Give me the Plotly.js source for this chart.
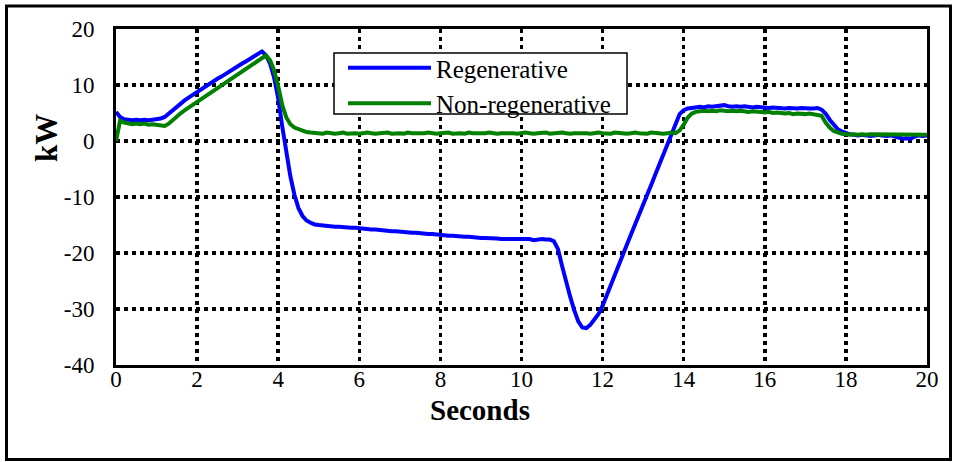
<!DOCTYPE html>
<html>
<head>
<meta charset="utf-8">
<script src="https://cdn.plot.ly/plotly-3.0.1.min.js"></script>
<style>
  html, body { margin: 0; padding: 0; background: #ffffff; }
  #chart { width: 957px; height: 462px; }
</style>
</head>
<body>
<div id="chart"></div>
<script>
// Time axis (seconds)
const time = [
  0.0,0.1,0.2,0.3,0.4,0.5,0.6,0.7,0.8,0.9,
  1.0,1.1,1.2,1.3,1.4,1.5,1.6,1.7,1.8,1.9,
  2.0,2.1,2.2,2.3,2.4,2.5,2.6,2.7,2.8,2.9,
  3.0,3.1,3.2,3.3,3.4,3.5,3.6,3.7,3.8,3.9,
  4.0,4.1,4.2,4.3,4.4,4.5,4.6,4.7,4.8,4.9,
  5.0,5.1,5.2,5.3,5.4,5.5,5.6,5.7,5.8,5.9,
  6.0,6.1,6.2,6.3,6.4,6.5,6.6,6.7,6.8,6.9,
  7.0,7.1,7.2,7.3,7.4,7.5,7.6,7.7,7.8,7.9,
  8.0,8.1,8.2,8.3,8.4,8.5,8.6,8.7,8.8,8.9,
  9.0,9.1,9.2,9.3,9.4,9.5,9.6,9.7,9.8,9.9,
  10.0,10.1,10.2,10.3,10.4,10.5,10.6,10.7,10.8,10.9,
  11.0,11.1,11.2,11.3,11.4,11.5,11.6,11.7,11.8,11.9,
  12.0,12.1,12.2,12.3,12.4,12.5,12.6,12.7,12.8,12.9,
  13.0,13.1,13.2,13.3,13.4,13.5,13.6,13.7,13.8,13.9,
  14.0,14.1,14.2,14.3,14.4,14.5,14.6,14.7,14.8,14.9,
  15.0,15.1,15.2,15.3,15.4,15.5,15.6,15.7,15.8,15.9,
  16.0,16.1,16.2,16.3,16.4,16.5,16.6,16.7,16.8,16.9,
  17.0,17.1,17.2,17.3,17.4,17.5,17.6,17.7,17.8,17.9,
  18.0,18.1,18.2,18.3,18.4,18.5,18.6,18.7,18.8,18.9,
  19.0,19.1,19.2,19.3,19.4,19.5,19.6,19.7,19.8,19.9,
  20.0
];

// Regenerative power (kW)
const regenerative = [
  5.2,4.3,3.9,3.8,3.7,3.8,3.7,3.8,3.7,3.8,
  3.9,4.0,4.3,4.9,5.6,6.3,6.8,7.3,7.8,8.3,
  8.8,9.3,9.7,10.2,10.6,11.1,11.5,12.0,12.4,12.8,
  13.3,13.8,14.2,14.7,15.1,15.6,16.0,15.3,13.8,11.3,
  7.6,2.6,-2.2,-6.3,-9.6,-12.0,-13.4,-14.2,-14.6,-14.9,
  -15.0,-15.1,-15.1,-15.2,-15.3,-15.3,-15.4,-15.4,-15.5,-15.5,
  -15.6,-15.6,-15.7,-15.8,-15.8,-15.9,-15.9,-16.0,-16.1,-16.1,
  -16.2,-16.2,-16.3,-16.4,-16.4,-16.5,-16.5,-16.6,-16.6,-16.7,
  -16.8,-16.8,-16.9,-16.9,-17.0,-17.0,-17.1,-17.1,-17.2,-17.2,
  -17.3,-17.3,-17.3,-17.4,-17.4,-17.5,-17.5,-17.5,-17.6,-17.6,
  -17.6,-17.6,-17.5,-17.7,-17.6,-17.5,-17.6,-17.6,-17.9,-19.3,
  -22.3,-25.4,-27.8,-30.2,-32.2,-33.3,-33.4,-32.8,-31.8,-30.9,
  -29.4,-27.5,-25.7,-23.9,-22.1,-20.3,-18.5,-16.7,-15.0,-13.2,
  -11.4,-9.6,-7.8,-6.0,-4.2,-2.4,-0.6,1.4,3.3,4.8,
  5.5,5.8,5.9,6.0,6.1,6.0,6.2,6.1,6.2,6.3,
  6.4,6.2,6.1,6.2,6.1,6.2,6.1,6.0,6.1,6.0,
  6.0,5.9,6.0,5.9,5.9,5.8,5.9,5.8,5.8,5.9,
  5.8,5.8,5.8,5.9,5.6,4.9,3.8,2.8,2.1,1.7,
  1.4,1.2,1.1,1.0,1.1,1.0,0.9,1.0,1.1,1.0,
  0.9,1.0,0.8,0.6,0.4,0.5,0.4,0.8,1.0,0.9,
  1.0
];

// Non-regenerative power (kW)
const nonRegenerative = [
  0.0,3.6,3.3,3.2,3.0,3.1,3.0,3.1,2.9,3.0,
  2.9,2.8,2.7,3.1,3.8,4.5,5.0,5.5,6.0,6.5,
  7.0,7.5,8.0,8.5,9.0,9.5,10.0,10.5,11.0,11.5,
  12.0,12.5,13.0,13.5,14.0,14.5,15.0,15.3,14.4,12.6,
  9.8,6.4,4.2,3.0,2.4,2.1,1.8,1.6,1.5,1.4,
  1.4,1.3,1.5,1.4,1.3,1.4,1.5,1.3,1.4,1.4,
  1.3,1.4,1.5,1.4,1.3,1.4,1.4,1.5,1.3,1.4,
  1.4,1.3,1.5,1.4,1.4,1.3,1.4,1.5,1.4,1.3,
  1.4,1.4,1.5,1.3,1.4,1.4,1.3,1.5,1.4,1.4,
  1.3,1.4,1.5,1.4,1.3,1.4,1.4,1.5,1.4,1.3,
  1.4,1.5,1.4,1.3,1.4,1.4,1.5,1.3,1.4,1.4,
  1.5,1.4,1.3,1.4,1.4,1.5,1.4,1.3,1.4,1.5,
  1.4,1.4,1.3,1.5,1.4,1.4,1.3,1.4,1.5,1.4,
  1.4,1.3,1.5,1.4,1.4,1.3,1.4,1.5,1.4,1.9,
  2.9,4.2,4.9,5.2,5.3,5.4,5.3,5.4,5.3,5.5,
  5.4,5.3,5.4,5.3,5.4,5.3,5.2,5.3,5.2,5.2,
  5.1,5.2,5.0,5.1,5.0,4.9,5.0,4.8,4.9,4.8,
  4.8,4.9,4.8,4.7,4.5,3.3,2.4,1.8,1.5,1.3,
  1.2,1.1,1.2,1.1,1.2,1.1,1.2,1.2,1.1,1.2,
  1.1,1.2,1.1,1.2,1.1,1.2,1.1,1.2,1.1,1.2,
  1.1
];

const xTicks = [0,2,4,6,8,10,12,14,16,18,20];
const yTicks = [-40,-30,-20,-10,0,10,20];
const seriesNames = ['Regenerative', 'Non-regenerative'];
const xTitle = 'Seconds';
const yTitle = 'kW';

const FONT = '"Liberation Serif", "Times New Roman", Times, serif';

// plot area in pixels: x 116..927, y 29..365
const PX = (p) => (p - 116) / 811;
const PY = (p) => (365 - p) / 336;

const traces = [
  {
    x: time, y: regenerative, name: seriesNames[0],
    type: 'scatter', mode: 'lines',
    line: { color: 'rgb(0,0,255)', width: 4 }
  },
  {
    x: time, y: nonRegenerative, name: seriesNames[1],
    type: 'scatter', mode: 'lines',
    line: { color: 'rgb(0,128,0)', width: 4 }
  }
];

const layout = {
  width: 957, height: 462,
  margin: { l: 116, r: 30, t: 29, b: 97 },
  paper_bgcolor: '#ffffff', plot_bgcolor: '#ffffff',
  font: { family: FONT, color: '#000000', size: 23 },
  showlegend: true,
  legend: {
    x: PX(343), y: PY(45), xanchor: 'left', yanchor: 'top',
    bgcolor: 'rgba(0,0,0,0)', borderwidth: 0,
    font: { family: FONT, size: 25, color: '#000000' },
    itemwidth: 83, tracegroupgap: 0
  },
  xaxis: {
    range: [0, 20], tickvals: xTicks, ticktext: xTicks.map(String),
    showline: true, linecolor: '#000000', linewidth: 3, mirror: true,
    showgrid: true, gridcolor: '#000000', gridwidth: 3.5, griddash: '3.5px,4.5px',
    zeroline: false, ticks: '', ticklabelstandoff: -9,
    tickfont: { family: FONT, size: 23, color: '#000000' }
  },
  yaxis: {
    range: [-40, 20], tickvals: yTicks, ticktext: yTicks.map(String),
    showline: true, linecolor: '#000000', linewidth: 3, mirror: true,
    showgrid: true, gridcolor: '#000000', gridwidth: 3.5, griddash: '3.5px,4.5px',
    zeroline: false, ticks: '', ticklabelstandoff: 14,
    tickfont: { family: FONT, size: 23, color: '#000000' }
  },
  annotations: [
    {
      text: '<b>' + xTitle + '</b>', xref: 'paper', yref: 'paper',
      x: PX(480), y: PY(410), xanchor: 'center', yanchor: 'middle',
      showarrow: false, font: { family: FONT, size: 29, color: '#000000' }
    },
    {
      text: '<b>' + yTitle + '</b>', xref: 'paper', yref: 'paper',
      x: PX(46), y: PY(138), xanchor: 'center', yanchor: 'middle',
      textangle: -90,
      showarrow: false, font: { family: FONT, size: 31, color: '#000000' }
    }
  ],
  shapes: [
    {
      // outer figure frame
      type: 'rect', xref: 'paper', yref: 'paper', layer: 'above',
      x0: PX(6.5), x1: PX(950.5), y0: PY(459.5), y1: PY(6),
      line: { color: '#000000', width: 3 }, fillcolor: 'rgba(0,0,0,0)'
    },
    {
      // legend frame
      type: 'rect', xref: 'paper', yref: 'paper', layer: 'above',
      x0: PX(334), x1: PX(627), y0: PY(114), y1: PY(53),
      line: { color: '#000000', width: 1.5 }, fillcolor: '#ffffff'
    }
  ]
};

Plotly.newPlot('chart', traces, layout, { staticPlot: true, displayModeBar: false });
</script>
</body>
</html>
